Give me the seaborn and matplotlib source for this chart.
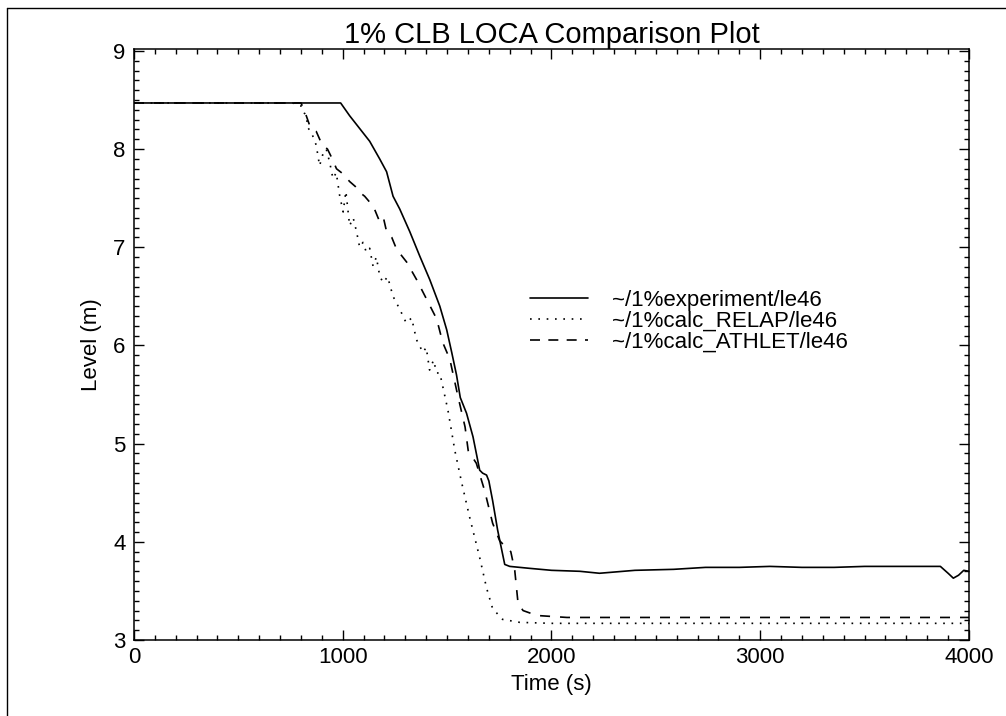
import matplotlib
matplotlib.use("Agg")
import matplotlib.pyplot as plt
from matplotlib.lines import Line2D
from matplotlib.ticker import AutoMinorLocator, MultipleLocator
import numpy as np
import pandas as pd
import seaborn as sns

# --- data ---
t_exp = [0, 990, 1033, 1081, 1129, 1177, 1210, 1241, 1273, 1321, 1369, 1417,
         1465, 1498, 1522, 1545, 1563, 1593, 1624, 1656, 1670, 1689, 1700, 1718,
         1742, 1776, 1800, 1896, 2000, 2136, 2230, 2400, 2585, 2738, 2900, 3046,
         3200, 3354, 3500, 3700, 3863, 3900, 3925, 3950, 3975, 4000]
lvl_exp = [8.47, 8.47, 8.34, 8.21, 8.08, 7.90, 7.77, 7.52, 7.39, 7.16, 6.91, 6.67,
           6.40, 6.16, 5.93, 5.70, 5.47, 5.31, 5.07, 4.73, 4.70, 4.68, 4.62, 4.42,
           4.12, 3.77, 3.75, 3.73, 3.71, 3.70, 3.68, 3.71, 3.72, 3.74, 3.74, 3.75,
           3.74, 3.74, 3.75, 3.75, 3.75, 3.68, 3.63, 3.66, 3.71, 3.70]

t_relap = [0, 760, 800, 815, 826, 832, 850, 873, 889, 905, 921, 937, 953, 969,
           985, 1002, 1015, 1033, 1050, 1066, 1081, 1097, 1113, 1129, 1145, 1161,
           1177, 1193, 1215, 1241, 1273, 1304, 1330, 1353, 1384, 1400, 1416, 1435,
           1450, 1465, 1504, 1537, 1570, 1608, 1656, 1689, 1718, 1766, 1848, 2000,
           4000]
lvl_relap = [8.47, 8.47, 8.44, 8.37, 8.34, 8.22, 8.17, 8.04, 7.83, 7.95, 8.00, 7.87,
             7.70, 7.76, 7.53, 7.36, 7.57, 7.22, 7.30, 7.16, 7.00, 7.05, 6.95, 6.99,
             6.81, 6.90, 6.71, 6.64, 6.70, 6.50, 6.37, 6.23, 6.28, 6.06, 5.93, 5.98,
             5.75, 5.85, 5.72, 5.72, 5.34, 4.93, 4.60, 4.25, 3.84, 3.53, 3.32, 3.21,
             3.18, 3.17, 3.17]

t_athlet = [0, 800, 817, 845, 873, 900, 927, 950, 970, 1000, 1033, 1060, 1081,
            1105, 1129, 1150, 1177, 1195, 1210, 1235, 1258, 1306, 1354, 1402, 1450,
            1479, 1513, 1550, 1586, 1601, 1640, 1680, 1718, 1752, 1785, 1805, 1824,
            1840, 1864, 1930, 2074, 4000]
lvl_athlet = [8.47, 8.47, 8.39, 8.22, 8.18, 8.05, 8.00, 7.90, 7.80, 7.75, 7.67, 7.62,
              7.56, 7.52, 7.46, 7.40, 7.26, 7.30, 7.16, 7.10, 6.98, 6.85, 6.67, 6.47,
              6.27, 6.03, 5.86, 5.50, 5.17, 4.93, 4.80, 4.52, 4.19, 4.01, 3.94, 3.90,
              3.71, 3.37, 3.30, 3.25, 3.23, 3.23]

labels = ["~/1%experiment/le46", "~/1%calc_RELAP/le46", "~/1%calc_ATHLET/le46"]

sns.set_theme(style="ticks")
plt.rcParams['font.family'] = ['Liberation Sans', 'DejaVu Sans']
plt.rcParams['text.color'] = 'black'
plt.rcParams['axes.labelcolor'] = 'black'
plt.rcParams['xtick.color'] = 'black'
plt.rcParams['ytick.color'] = 'black'

fig = plt.figure(figsize=(10.06, 7.16), dpi=100)
ax = fig.add_axes([0.1332, 0.1061, 0.8300, 0.8255])

lw = 1.2
sns.lineplot(x=t_exp, y=lvl_exp, ax=ax, color="black", linewidth=lw,
             estimator=None, sort=False)
sns.lineplot(x=t_relap, y=lvl_relap, ax=ax, color="black", linewidth=lw,
             estimator=None, sort=False, linestyle=(0, (1, 4)))
sns.lineplot(x=t_athlet, y=lvl_athlet, ax=ax, color="black", linewidth=lw,
             estimator=None, sort=False, linestyle=(0, (6, 6)))

ax.set_xlim(0, 4000)
ax.set_ylim(3, 9.02)
ax.xaxis.set_major_locator(MultipleLocator(1000))
ax.yaxis.set_major_locator(MultipleLocator(1))
ax.xaxis.set_minor_locator(AutoMinorLocator(10))
ax.yaxis.set_minor_locator(AutoMinorLocator(10))
ax.tick_params(which="both", direction="in", top=True, right=True,
               colors="black", labelsize=16, width=1.0)
ax.tick_params(which="major", length=7)
ax.tick_params(which="minor", length=3.5)
ax.tick_params(axis="x", pad=5)
ax.tick_params(axis="y", pad=6)
for s in ax.spines.values():
    s.set_color("black")
    s.set_linewidth(1.1)

ax.set_xlabel("Time (s)", fontsize=16, labelpad=4, color="black")
ax.set_ylabel("Level (m)", fontsize=16, labelpad=8, color="black")
ax.set_title("1% CLB LOCA Comparison Plot", fontsize=21, pad=3.5, color="black")

handles = [Line2D([], [], color="black", lw=lw),
           Line2D([], [], color="black", lw=lw, linestyle=(0, (1, 4))),
           Line2D([], [], color="black", lw=lw, linestyle=(0, (6, 5)))]
fig.legend(handles, labels, loc="upper left",
           bbox_to_anchor=(530 / 1006, 1 - 290 / 716),
           frameon=False, fontsize=16, handlelength=2.6, handletextpad=1.1,
           labelspacing=0.0, borderpad=0, borderaxespad=0, labelcolor="black")

# scanned page border (left and top edges)
fig.add_artist(Line2D([7 / 1006, 7 / 1006], [0, 1 - 8 / 716],
                      transform=fig.transFigure, color="black", lw=1.0))
fig.add_artist(Line2D([7 / 1006, 1], [1 - 8 / 716, 1 - 8 / 716],
                      transform=fig.transFigure, color="black", lw=1.0))

fig.savefig("out.png", dpi=100, facecolor="white")
